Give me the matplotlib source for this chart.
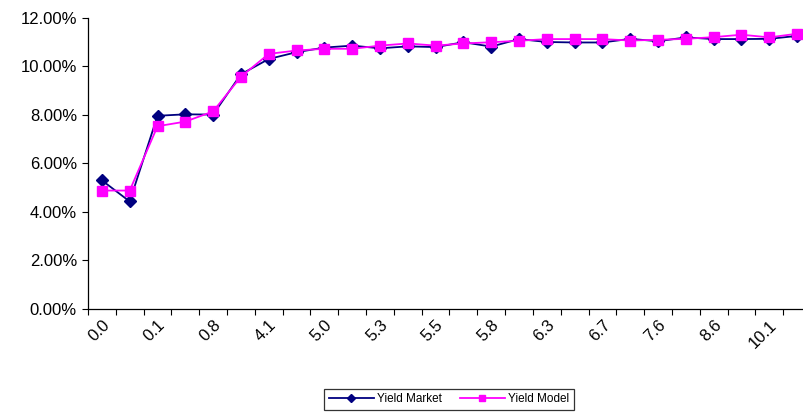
#!/usr/bin/env python3
"""Yield curve: market yields against model yields by maturity."""

import matplotlib

matplotlib.use("Agg")
import matplotlib.pyplot as plt
import numpy as np
from matplotlib.ticker import FuncFormatter

plt.rcParams["font.family"] = ["Liberation Sans", "DejaVu Sans"]

# maturity labels shown on every second category
MATURITY_LABELS = ["0.0", "0.1", "0.8", "4.1", "5.0", "5.3", "5.5",
                   "5.8", "6.3", "6.7", "7.6", "8.6", "10.1"]

YIELD_MARKET = [5.30, 4.43, 7.96, 8.02, 8.01, 9.67, 10.30, 10.58, 10.77,
                10.85, 10.74, 10.82, 10.79, 10.99, 10.81, 11.12, 11.00,
                10.98, 10.98, 11.13, 11.03, 11.19, 11.12, 11.12, 11.13, 11.25]
YIELD_MODEL = [4.88, 4.88, 7.53, 7.72, 8.14, 9.57, 10.51, 10.65, 10.72,
               10.72, 10.85, 10.94, 10.85, 10.94, 10.99, 11.05, 11.12,
               11.12, 11.12, 11.06, 11.09, 11.13, 11.20, 11.30, 11.19, 11.34]


def main():
    market = np.array(YIELD_MARKET) / 100
    model = np.array(YIELD_MODEL) / 100
    x = np.arange(len(market))

    fig = plt.figure(figsize=(8.04, 4.13), dpi=100)
    ax = fig.add_axes([88 / 804, 0.2518, 723 / 804, 0.7053])

    ax.plot(x, market, color="#000080", linewidth=1.3, marker="D",
            markersize=6.5, label="Yield Market", zorder=3)
    ax.plot(x, model, color="#FF00FF", linewidth=1.3, marker="s",
            markersize=7.5, label="Yield Model", zorder=4)

    ax.set_xlim(-0.5, len(x) - 0.5)
    ax.set_ylim(0, 0.12)
    ax.set_yticks(np.arange(0, 0.1201, 0.02))
    ax.yaxis.set_major_formatter(FuncFormatter(lambda v, _: f"{v * 100:.2f}%"))
    ax.tick_params(axis="y", labelsize=12, length=4, width=0.8, pad=4)

    # tick marks sit between categories, labels on every second category
    ax.set_xticks(np.arange(-0.5, len(x), 1.0))
    ax.set_xticklabels([])
    ax.tick_params(axis="x", which="major", length=4, width=0.8)
    ax.set_xticks(x[::2], minor=True)
    ax.set_xticklabels(MATURITY_LABELS, minor=True, rotation=45,
                       ha="right", va="top", rotation_mode="anchor", fontsize=12)
    ax.tick_params(axis="x", which="minor", length=0, pad=6)

    for side in ("top", "right"):
        ax.spines[side].set_visible(False)
    for side in ("left", "bottom"):
        ax.spines[side].set_linewidth(0.9)

    leg = fig.legend(loc="center", bbox_to_anchor=(449 / 804, 0.033), ncol=2,
                     fontsize=8.5, frameon=True, fancybox=False,
                     edgecolor="black", handlelength=3.8, markerscale=0.65,
                     borderpad=0.4, columnspacing=1.5, handletextpad=0.3)
    leg.get_frame().set_linewidth(0.9)

    fig.savefig("out.png", dpi=100)


if __name__ == "__main__":
    main()
